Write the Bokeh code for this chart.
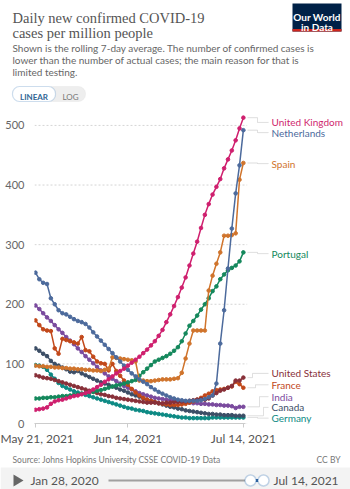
import pandas as pd
from bokeh.plotting import figure
from bokeh.layouts import column
from bokeh.models import (Label, PolyAnnotation, BoxAnnotation, FixedTicker,
                          DatetimeTickFormatter, Range1d, ColumnDataSource)
from bokeh.embed import file_html
from bokeh.resources import INLINE

# ---------------- data (7-day avg, new cases per million) ----------------
dates = pd.date_range("2021-05-21", "2021-07-14", freq="D")

united_kingdom = [23, 24, 25, 27, 33, 37, 39, 40, 42, 44,
                  46, 47, 49, 51, 53, 57, 61, 65, 70, 74,
                  79, 84, 88, 92, 97, 102, 107, 112, 118, 124,
                  131, 138, 147, 157, 170, 183, 197, 212, 228, 245,
                  265, 285, 305, 328, 350, 368, 384, 397, 410, 428,
                  443, 458, 475, 495, 513]
netherlands = [253, 242, 236, 234, 210, 200, 190, 185, 183, 179,
               175, 172, 170, 167, 161, 153, 146, 139, 132, 125,
               118, 111, 104, 97, 90, 84, 79, 74, 70, 66,
               61, 57, 53, 50, 47, 44, 42, 40, 39, 38,
               38, 38, 38, 39, 41, 44, 47, 67, 134, 190,
               260, 327, 386, 433, 492]
spain = [97, 96, 96, 95, 95, 94, 94, 93, 93, 92,
         92, 91, 91, 90, 90, 89, 89, 88, 90, 92,
         111, 110, 109, 108, 107, 106, 104, 72, 72, 71,
         71, 72, 73, 74, 74, 74, 75, 76, 85, 109,
         134, 156, 156, 156, 156, 223, 248, 268, 287, 315,
         315, 316, 319, 409, 437]
portugal = [42, 42, 43, 43, 44, 44, 45, 46, 46, 47,
            48, 49, 50, 51, 52, 53, 55, 56, 58, 60,
            62, 64, 65, 67, 69, 71, 73, 80, 86, 92,
            98, 104, 107, 110, 113, 117, 122, 128, 138, 151,
            164, 172, 181, 191, 200, 210, 222, 230, 242, 250,
            257, 261, 265, 272, 287]
united_states = [81, 79, 77, 76, 75, 73, 71, 69, 67, 65,
                 63, 61, 59, 57, 55, 53, 51, 49, 48, 46,
                 45, 43, 42, 41, 40, 39, 38, 37, 36, 35,
                 35, 35, 34, 34, 35, 35, 36, 36, 37, 37,
                 38, 39, 40, 41, 40, 42, 47, 51, 55, 57,
                 60, 63, 72, 72, 77]
france = [173, 165, 158, 156, 155, 126, 117, 142, 140, 138,
          136, 134, 145, 123, 121, 112, 104, 101, 100, 89,
          100, 88, 80, 72, 65, 58, 52, 47, 43, 40,
          38, 36, 34, 33, 32, 31, 31, 31, 32, 33,
          35, 37, 40, 43, 47, 50, 54, 56, 57, 58,
          60, 62, 70, 66, 60]
india = [198, 192, 185, 178, 172, 165, 158, 152, 145, 139,
         133, 126, 120, 113, 107, 101, 95, 89, 84, 79,
         75, 71, 67, 63, 60, 57, 54, 51, 49, 47,
         45, 43, 42, 41, 40, 39, 38, 37, 36, 35,
         35, 34, 34, 33, 33, 32, 32, 31, 31, 30,
         30, 29, 26, 28, 28]
canada = [126, 122, 117, 113, 105, 100, 97, 94, 91, 87,
          86, 88, 84, 81, 78, 75, 72, 69, 67, 65,
          62, 60, 57, 55, 52, 49, 47, 45, 42, 40,
          38, 36, 34, 32, 30, 28, 27, 25, 24, 22,
          21, 20, 19, 18, 17, 16, 16, 15, 15, 14,
          14, 14, 13, 13, 13]
germany = [98, 97, 95, 90, 82, 75, 68, 63, 60, 57,
           54, 52, 50, 48, 46, 44, 42, 40, 38, 36,
           34, 32, 30, 28, 26, 25, 23, 22, 21, 19,
           18, 17, 16, 15, 14, 13, 12, 11, 10, 10,
           9, 9, 9, 9, 9, 9, 10, 10, 10, 10,
           10, 10, 10, 10, 10]

countries = ["United Kingdom", "Netherlands", "Spain", "Portugal",
             "United States", "France", "India", "Canada", "Germany"]
series = [united_kingdom, netherlands, spain, portugal,
          united_states, france, india, canada, germany]
colors = ["#cf1f6e", "#4c6a9c", "#d0742c", "#14885c",
          "#883039", "#c2481a", "#7a4a9e", "#3c4e66", "#0d8a84"]
y_ticks = [0, 100, 200, 300, 400, 500]
x_tick_dates = ["2021-05-21", "2021-06-14", "2021-07-14"]

# label layout (data units for label centre, canvas px for connector elbow)
label_y = [505, 488, 436, 285, 84, 65, 45, 27, 9]
elbow_x = [257, 257, 257, 257, 252, 255, 259, 263, 257]

W = 350
HEAD_H, MAIN_H, FOOT_H = 113, 337, 39


def canvas_label(fig, x, y, t, size, color="#666666", font="Lato", align="left",
                 style="normal", baseline="alphabetic"):
    fig.add_layout(Label(x=x, y=y, x_units="canvas", y_units="canvas", text=t,
                         text_font=font, text_font_size=size, text_color=color,
                         text_align=align, text_font_style=style, text_baseline=baseline))


def canvas_box(fig, l, r, t, b, fill, line=None, lw=1, radius=0):
    fig.add_layout(BoxAnnotation(left=l, right=r, top=t, bottom=b,
                                 left_units="canvas", right_units="canvas",
                                 top_units="canvas", bottom_units="canvas",
                                 fill_color=fill, fill_alpha=1, line_color=line,
                                 line_width=lw, border_radius=radius))


def blank(h):
    f = figure(width=W, height=h, output_backend="svg", toolbar_location=None,
               x_range=Range1d(0, W), y_range=Range1d(h, 0),
               x_axis_location=None, y_axis_location=None,
               min_border=0, min_border_left=0, min_border_right=0,
               min_border_top=0, min_border_bottom=0, frame_align=False)
    f.outline_line_color = None
    f.xgrid.visible = False
    f.ygrid.visible = False
    f.border_fill_color = "white"
    f.background_fill_color = "white"
    return f


# ---------------- header ----------------
head = blank(HEAD_H)
canvas_label(head, 12, 17, "Daily new confirmed COVID-19", "14.5px", "#555555", "Liberation Serif")
canvas_label(head, 12, 32, "cases per million people", "14.5px", "#555555", "Liberation Serif")
canvas_label(head, 12, 47, "Shown is the rolling 7-day average. The number of confirmed cases is", "10px")
canvas_label(head, 12, 59, "lower than the number of actual cases; the main reason for that is", "10px")
canvas_label(head, 12, 71, "limited testing.", "10px")

canvas_box(head, 292, 341, 3, 31, "#002147")
canvas_box(head, 292, 341, 28.5, 31, "#ce261e")
canvas_label(head, 316.5, 16, "Our World", "10px", "white", "Lato", "center", "bold")
canvas_label(head, 316.5, 26, "in Data", "10px", "white", "Lato", "center", "bold")

canvas_box(head, 45, 85, 86, 101, "#eeeeee", "#dddddd", 1, 7)
canvas_box(head, 12, 55, 86, 101, "white", "#5b8fc4", 1.2, 7)
canvas_label(head, 33.5, 96.5, "LINEAR", "8px", "#2f6594", "Lato", "center", "bold")
canvas_label(head, 70, 96.5, "LOG", "8px", "#777777", "Lato", "center")

# ---------------- main chart ----------------
day = 86400000
t_first = pd.Timestamp(dates[0]).value // 10**6
t_last = pd.Timestamp(dates[-1]).value // 10**6
LEFT = 34
frame_w = W - LEFT
px_per_day = 3.85
x_start = t_first - 0.25 * day
x_end = x_start + frame_w / px_per_day * day

p = figure(width=W, height=MAIN_H, x_axis_type="datetime", output_backend="svg",
           toolbar_location=None,
           x_range=Range1d(x_start, x_end), y_range=Range1d(0, 520),
           min_border_left=LEFT, min_border_right=0,
           min_border_top=0, min_border_bottom=27, frame_align=False)
p.outline_line_color = None
p.background_fill_color = "white"
p.border_fill_color = "white"

# grid lines limited to the data period
p.xgrid.visible = False
p.ygrid.visible = False
p.segment(x0=[x_start] * len(y_ticks), x1=[t_last + 1.0 * day] * len(y_ticks),
          y0=y_ticks, y1=y_ticks, line_color="#d5d5d5", line_dash="2 2", line_width=1)

src = ColumnDataSource(dict(date=dates, **{f"s{i}": s for i, s in enumerate(series)}))
for i in reversed(range(len(series))):
    p.line("date", f"s{i}", source=src, color=colors[i], line_width=1.5)
    p.scatter("date", f"s{i}", source=src, color=colors[i], size=3.6, marker="circle")

p.yaxis.ticker = FixedTicker(ticks=y_ticks)
p.yaxis.axis_line_color = None
p.yaxis.major_tick_line_color = None
p.yaxis.minor_tick_line_color = None
p.yaxis.major_label_text_font = "Lato"
p.yaxis.major_label_text_font_size = "11px"
p.yaxis.major_label_text_color = "#666666"
p.yaxis.major_label_standoff = 4

p.xaxis.ticker = FixedTicker(ticks=[pd.Timestamp(d).value // 10**6 for d in x_tick_dates])
fmt = "%b %d, %Y"
p.xaxis.formatter = DatetimeTickFormatter(days=fmt, months=fmt, years=fmt, hours=fmt,
                                          hourmin=fmt, minutes=fmt, seconds=fmt,
                                          minsec=fmt, milliseconds=fmt, microseconds=fmt)
p.xaxis.bounds = (x_start, t_last + 0.5 * day)
p.xaxis.axis_line_color = "#cccccc"
p.xaxis.major_tick_line_color = "#cccccc"
p.xaxis.major_tick_in = 0
p.xaxis.major_tick_out = 4
p.xaxis.minor_tick_line_color = None
p.xaxis.major_label_text_font = "Lato"
p.xaxis.major_label_text_font_size = "12px"
p.xaxis.major_label_text_color = "#555555"
p.xaxis.major_label_standoff = 3

for i, name in enumerate(countries):
    v_end = series[i][-1]
    e = elbow_x[i]
    p.add_layout(PolyAnnotation(xs=[247, e, e, 268, e, e],
                                ys=[v_end, v_end, label_y[i], label_y[i], label_y[i], v_end],
                                xs_units="canvas", ys_units="data",
                                fill_color=None, line_color="#c4c4c4", line_width=1))
    p.add_layout(Label(x=271, y=label_y[i], x_units="canvas", y_units="data", text=name,
                       text_font="Lato", text_font_size="10px", text_color=colors[i],
                       text_baseline="middle"))

# ---------------- footer ----------------
foot = blank(FOOT_H)
canvas_label(foot, 12, 9, "Source: Johns Hopkins University CSSE COVID-19 Data", "8.5px",
             "#777777", baseline="middle")
canvas_label(foot, 340, 9, "CC BY", "8.5px", "#777777", align="right", baseline="middle")
canvas_box(foot, 0, W, 17, FOOT_H, "#f3f3f3")
foot.add_layout(PolyAnnotation(xs=[13, 23, 13], ys=[24, 30, 36],
                               xs_units="canvas", ys_units="canvas",
                               fill_color="#666666", fill_alpha=1, line_color=None))
canvas_label(foot, 30, 30, "Jan 28, 2020", "12px", "#555555", baseline="middle")
canvas_box(foot, 108, 245, 29, 31, "#a0a0a0")
canvas_box(foot, 252, 262, 28.5, 31.5, "#2a5d9a")
for cx in (250, 263):
    canvas_box(foot, cx - 5.5, cx + 5.5, 24.5, 35.5, "white", "#3b78b5", 1.5, 6)
canvas_label(foot, 273, 30, "Jul 14, 2021", "12px", "#555555", baseline="middle")

layout = column(head, p, foot, spacing=0)
open("out.html", "w").write(file_html(layout, INLINE))
